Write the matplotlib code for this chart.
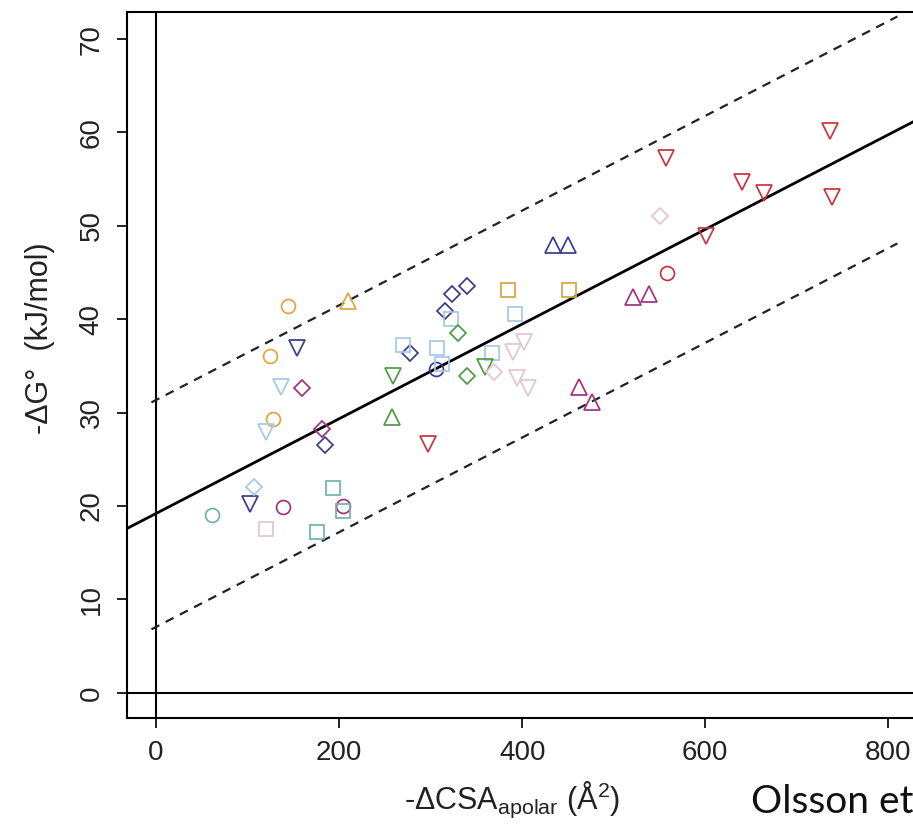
import matplotlib
matplotlib.use("Agg")
import matplotlib.pyplot as plt

plt.rcParams['font.family'] = ['Liberation Sans', 'DejaVu Sans']
plt.rcParams['mathtext.fontset'] = 'custom'
plt.rcParams['mathtext.rm'] = 'Liberation Sans'
plt.rcParams['mathtext.it'] = 'Liberation Sans:italic'

# colours of the groups
orange = '#E5A33B'
orange2 = '#D6A441'
navy = '#3C3A8C'
lightblue = '#A3C8E8'
magenta = '#A2307F'
green = '#4E9B44'
teal = '#6FB3A3'
red = '#C8343F'
pink = '#E5C4D2'

# (colour, marker, x, y)
orange_circle_x = [144.5, 124.5, 127.4]
orange_circle_y = [41.4, 36.1, 29.3]
orange_triup_x = [209.4]
orange_triup_y = [42.0]
orange_square_x = [384.1, 451.1]
orange_square_y = [43.1, 43.1]
navy_tridown_x = [153.7, 103.0]
navy_tridown_y = [36.9, 20.2]
navy_diamond_x = [185.0, 277.4, 316.0, 323.3, 340.0]
navy_diamond_y = [26.5, 36.4, 40.9, 42.7, 43.6]
navy_circle_x = [305.5]
navy_circle_y = [34.7]
navy_triup_x = [434.0, 450.4]
navy_triup_y = [48.0, 48.0]
lblue_tridown_x = [136.9, 120.2]
lblue_tridown_y = [32.7, 27.95]
lblue_diamond_x = [107.4]
lblue_diamond_y = [22.05]
lblue_square_x = [269.4, 306.6, 312.0, 322.2, 366.7, 391.8]
lblue_square_y = [37.2, 36.9, 35.2, 40.0, 36.4, 40.6]
mag_diamond_x = [159.5, 181.3]
mag_diamond_y = [32.6, 28.2]
mag_circle_x = [139.0, 204.0]
mag_circle_y = [19.85, 20.0]
mag_triup_x = [521.4, 538.8, 461.7, 476.2]
mag_triup_y = [42.4, 42.7, 32.7, 31.1]
green_tridown_x = [259.3, 359.4]
green_tridown_y = [33.9, 34.9]
green_triup_x = [257.4]
green_triup_y = [29.5]
green_diamond_x = [330.2, 340.0]
green_diamond_y = [38.5, 33.9]
teal_square_x = [193.0, 204.6, 175.5]
teal_square_y = [21.95, 19.45, 17.2]
teal_circle_x = [60.8]
teal_circle_y = [19.0]
pink_square_x = [119.8]
pink_square_y = [17.5]
pink_diamond_x = [550.5, 369.2]
pink_diamond_y = [51.1, 34.4]
pink_tridown_x = [390.3, 402.0, 394.6, 406.7]
pink_tridown_y = [36.5, 37.6, 33.7, 32.6]
red_tridown_x = [296.7, 556.7, 640.0, 664.4, 736.2, 739.1, 600.4]
red_tridown_y = [26.6, 57.3, 54.7, 53.5, 60.2, 53.1, 48.9]
red_circle_x = [558.5]
red_circle_y = [45.0]

# fitted line and prediction band
intercept = 19.2
slope = 0.0507
band = 12.15
band_x = [-5, 810]

groups = [
    (orange, 'o', orange_circle_x, orange_circle_y),
    (orange, '^', orange_triup_x, orange_triup_y),
    (orange2, 's', orange_square_x, orange_square_y),
    (navy, 'v', navy_tridown_x, navy_tridown_y),
    (navy, 'D', navy_diamond_x, navy_diamond_y),
    (navy, 'o', navy_circle_x, navy_circle_y),
    (navy, '^', navy_triup_x, navy_triup_y),
    (lightblue, 'v', lblue_tridown_x, lblue_tridown_y),
    (lightblue, 'D', lblue_diamond_x, lblue_diamond_y),
    (lightblue, 's', lblue_square_x, lblue_square_y),
    (magenta, 'D', mag_diamond_x, mag_diamond_y),
    (magenta, 'o', mag_circle_x, mag_circle_y),
    (magenta, '^', mag_triup_x, mag_triup_y),
    (green, 'v', green_tridown_x, green_tridown_y),
    (green, '^', green_triup_x, green_triup_y),
    (green, 'D', green_diamond_x, green_diamond_y),
    (teal, 's', teal_square_x, teal_square_y),
    (teal, 'o', teal_circle_x, teal_circle_y),
    (pink, 's', pink_square_x, pink_square_y),
    (pink, 'D', pink_diamond_x, pink_diamond_y),
    (pink, 'v', pink_tridown_x, pink_tridown_y),
    (red, 'v', red_tridown_x, red_tridown_y),
    (red, 'o', red_circle_x, red_circle_y),
]
sizes = {'o': 10, 's': 9.5, 'D': 8.5, '^': 11.5, 'v': 11.5}

fig = plt.figure(figsize=(9.13, 8.33), dpi=100)
ax = fig.add_axes([127 / 913, 115 / 833, (934 - 127) / 913, 706 / 833])

ax.axhline(0, color='black', lw=1.5, zorder=1)
ax.axvline(0, color='black', lw=1.5, zorder=1)
ax.axline((0, intercept), slope=slope, color='black', lw=2.0, zorder=1)
for off in (band, -band):
    ax.plot(band_x, [intercept + off + slope * band_x[0], intercept + off + slope * band_x[1]],
            color='#222222', lw=1.6, linestyle=(0, (4, 3.2)), zorder=1)

for col, mk, xs, ys in groups:
    ax.plot(xs, ys, linestyle='none', marker=mk, markersize=sizes[mk],
            markerfacecolor='none', markeredgecolor=col, markeredgewidth=1.25, zorder=3)

ax.set_xlim(-31.7, 850)
ax.set_ylim(-2.7, 72.9)
ax.set_xticks([0, 200, 400, 600, 800])
ax.set_yticks([0, 10, 20, 30, 40, 50, 60, 70])
for s in ax.spines.values():
    s.set_linewidth(1.5)
ax.tick_params(direction='out', length=7, width=1.4, labelsize=20, colors='#222222')
ax.tick_params(axis='x', pad=9)
ax.tick_params(axis='y', pad=9, labelrotation=90)
for lab in ax.get_yticklabels():
    lab.set_va('center')

fig.text(40 / 913, (833 - 338) / 833, '-ΔG°  (kJ/mol)', rotation=90,
         ha='center', va='center', fontsize=22, color='#222222')
fig.text(512 / 913, (833 - 800) / 833, r'-ΔCSA$_{\rm apolar}$ (Å$^{2}$)',
         ha='center', va='center', fontsize=22, color='#222222')
fig.text(913 / 913, (833 - 802) / 833, 'Olsson et', family=['Lato', 'DejaVu Sans'],
         ha='right', va='center', fontsize=28, color='#111111')

fig.savefig('out.png', dpi=100)
